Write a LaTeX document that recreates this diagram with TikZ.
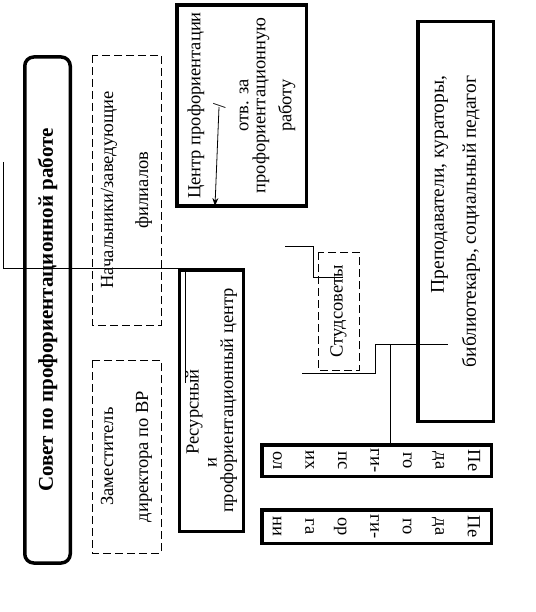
\documentclass[tikz,border=0pt]{standalone}
\usepackage{fontspec}
\setmainfont{Liberation Serif}
\usetikzlibrary{arrows.meta}

\begin{document}
\begin{tikzpicture}[x=1pt,y=-1pt,
    thickbox/.style={draw,line width=3.5pt,inner sep=0pt,align=center},
    dashbox/.style={draw,line width=0.9pt,dash pattern=on 8pt off 4pt,inner sep=0pt,align=center},
    conn/.style={line width=0.8pt},
    txt/.style={font=\fontsize{18.5}{#1}\selectfont}]
    \useasboundingbox (0,0) rectangle (535,612);
    \node[thickbox,rounded corners=9pt,rotate=90,minimum width=506pt,minimum height=45.5pt,font=\bfseries\fontsize{21}{24}\selectfont] (sovet) at (47.5,310) {Совет по профориентационной работе};
    \node[dashbox,rotate=90,minimum width=270pt,minimum height=69pt,txt=35] (nach) at (126.5,190) {Начальники/заведующие\\филиалов};
    \node[dashbox,rotate=90,minimum width=193pt,minimum height=69pt,txt=35] (zam) at (126.5,456.5) {Заместитель\\директора по ВР};
    \node[thickbox,rotate=90,minimum width=201pt,minimum height=129.5pt,txt=23] (centr) at (241.5,105.5) {Центр профориентации\\[2pt]/\\отв. за\\[-6pt]профориентационную\\[3pt]работу};
    \node[thickbox,rotate=90,minimum width=261.5pt,minimum height=64pt,txt=16.5,align=left] (resurs) at (211.5,400.5) {\hspace*{58pt}Ресурсный\\[1.5pt]\hspace*{45pt}и\\профориентационный центр};
    \node[dashbox,rotate=90,minimum width=118pt,minimum height=41pt,txt=22] (stud) at (338.5,311) {Студсоветы};
    \node[thickbox,rotate=90,minimum width=399.5pt,minimum height=75.5pt,font=\fontsize{19.5}{32}\selectfont,align=right] (prep) at (455.5,221.5) {Преподаватели, кураторы,\\библиотекарь, социальный педагог};
    \node[thickbox,rotate=-90,minimum width=31.5pt,minimum height=229.5pt,txt=32.5] (psy) at (376.5,460.5) {Пе\\да\\го\\ги-\\пс\\их\\ол};
    \node[thickbox,rotate=-90,minimum width=33.5pt,minimum height=229.5pt,txt=32.5] (org) at (376.5,526.5) {Пе\\да\\го\\ги-\\ор\\га\\ни};
    \coordinate (l1a) at (3,162);
    \coordinate (l1b) at (185,268);
    \coordinate (l1c) at (185,383);
    \draw[conn] (l1a) |- (l1b) -- (l1c);
    \coordinate (s1) at (285,246);
    \coordinate (s2) at (313,277);
    \coordinate (s3) at (343,277);
    \draw[conn] (s1) -| (s2) -- (s3);
    \coordinate (p1) at (302,373);
    \coordinate (p2) at (375,344);
    \coordinate (p3) at (448,344);
    \draw[conn] (p1) -| (p2) -- (p3);
    \coordinate (p4) at (390,344);
    \draw[conn] (p4) -- (p4 |- psy.west);
    \coordinate (a1) at (219,107);
    \coordinate (a2) at (215,206);
    \draw[conn,-{Stealth[length=8pt,width=6pt]}] (a1) -- (a2);
\end{tikzpicture}
\end{document}
